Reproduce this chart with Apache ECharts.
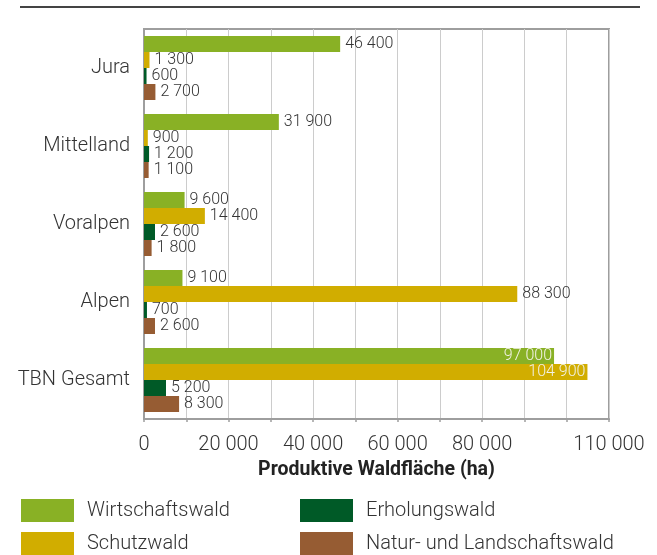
<!DOCTYPE html>
<html>
<head>
<meta charset="utf-8">
<script src="https://cdn.jsdelivr.net/npm/echarts@6/dist/echarts.min.js"></script>
<style>
  html, body { margin: 0; padding: 0; background: #fff; }
  #chart { width: 657px; height: 555px; }
</style>
</head>
<body>
<div id="chart"></div>
<script>
// regions, top to bottom
const categories = ['Jura', 'Mittelland', 'Voralpen', 'Alpen', 'TBN Gesamt']

// productive forest area in ha per forest function
const wirtschaftswald = [46400, 31900, 9600, 9100, 97000]
const schutzwald = [1300, 900, 14400, 88300, 104900]
const erholungswald = [600, 1200, 2600, 700, 5200]
const naturwald = [2700, 1100, 1800, 2600, 8300]

const seriesNames = ['Wirtschaftswald', 'Schutzwald', 'Erholungswald', 'Natur- und Landschaftswald']
const tickLabels = [0, 20000, 40000, 60000, 80000, 110000]

const colors = ['#89b125', '#d1ad00', '#005a27', '#965c33']
const fontFamily = 'Roboto, "Noto Sans", sans-serif'

const fmt = v => String(v).replace(/\B(?=(\d{3})+(?!\d))/g, ' ')

const chart = echarts.init(document.getElementById('chart'))

const makeSeries = (name, values, idx) => ({
  name: name,
  type: 'bar',
  barWidth: 16,
  barGap: '0%',
  itemStyle: { color: colors[idx] },
  label: {
    show: true,
    position: 'right',
    distance: 5,
    fontFamily: fontFamily,
    fontWeight: 300,
    fontSize: 16,
    color: '#333',
    formatter: p => fmt(p.value)
  },
  data: values.map(v => v > 90000
    ? { value: v, label: { position: 'insideRight', distance: 2, color: '#f2f2e6' } }
    : v),
  animation: false
})

// one legend per item so the 2x2 block sits where it should
const legendSlots = [[21, 499], [21, 532], [300, 499], [300, 532]]
const legends = seriesNames.map((n, i) => ({
  left: legendSlots[i][0],
  top: legendSlots[i][1],
  padding: 0,
  itemWidth: 53,
  itemHeight: 23,
  icon: 'rect',
  data: [n],
  textStyle: { fontSize: 20, fontWeight: 300, color: '#333', padding: [2, 0, 0, 8] }
}))

chart.setOption({
  textStyle: { fontFamily: fontFamily },
  grid: {
    left: 144,
    right: 48,
    top: 29,
    bottom: 136,
    show: true,
    borderColor: '#9e9e9e',
    borderWidth: 2
  },
  graphic: [
    {
      type: 'line',
      shape: { x1: 20, y1: 7, x2: 640, y2: 7 },
      style: { stroke: '#444', lineWidth: 2 }
    }
  ],
  legend: legends,
  xAxis: {
    type: 'value',
    min: 0,
    max: 110000,
    interval: 10000,
    name: 'Produktive Waldfläche (ha)',
    nameLocation: 'middle',
    nameGap: 40,
    nameTextStyle: { fontSize: 19.5, fontWeight: 'bold', color: '#222' },
    axisLine: { show: true, lineStyle: { color: '#9e9e9e', width: 2 } },
    axisTick: { show: true, length: 3, lineStyle: { color: '#9e9e9e', width: 1.5 } },
    axisLabel: {
      margin: 16,
      fontSize: 20,
      fontWeight: 300,
      color: '#333',
      formatter: v => tickLabels.includes(v) ? fmt(v) : ''
    },
    splitLine: { show: true, lineStyle: { color: '#cccccc', width: 1 } }
  },
  yAxis: {
    type: 'category',
    inverse: true,
    data: categories,
    axisLine: { show: true, lineStyle: { color: '#9e9e9e', width: 2 } },
    axisTick: { show: false },
    axisLabel: { margin: 14, fontSize: 20, fontWeight: 300, color: '#333' }
  },
  series: [
    makeSeries(seriesNames[0], wirtschaftswald, 0),
    makeSeries(seriesNames[1], schutzwald, 1),
    makeSeries(seriesNames[2], erholungswald, 2),
    makeSeries(seriesNames[3], naturwald, 3)
  ]
})
</script>
</body>
</html>
